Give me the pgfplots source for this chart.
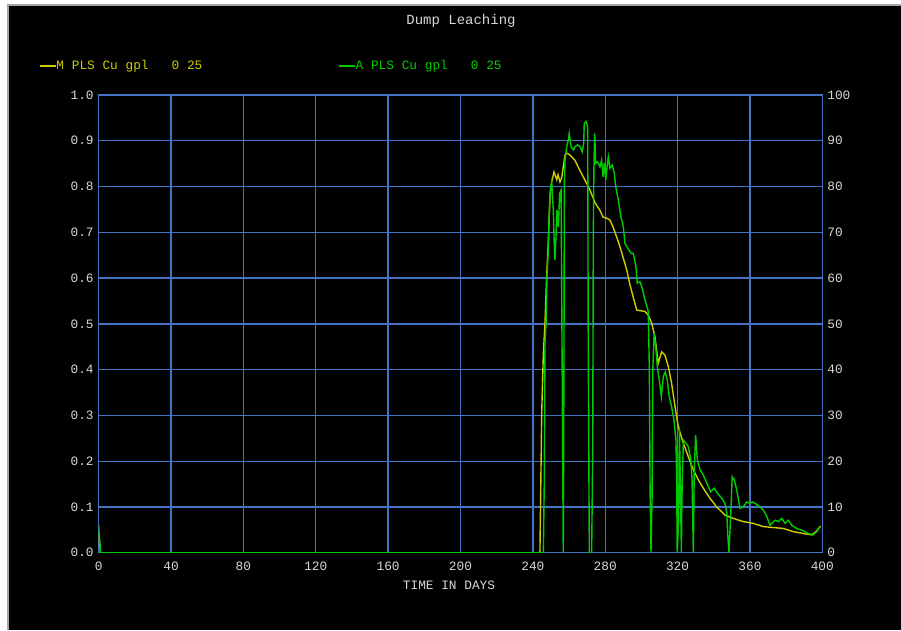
\documentclass[border=0pt]{standalone}
\usepackage{fontspec}
\setmainfont{Liberation Mono}
\usepackage{pgfplots}
\pgfplotsset{compat=1.18}
\definecolor{gridblue}{RGB}{68,114,196}
\definecolor{myyellow}{RGB}{205,205,0}
\definecolor{mygreen}{RGB}{0,205,0}
\definecolor{ticktext}{RGB}{215,215,215}

\pgfplotstableread{
day val
0 0.04
1 0
243.9 0
244.9 0.307
245.8 0.436
246.7 0.502
247.6 0.602
248.5 0.677
248.9 0.72
249.5 0.777
250.4 0.81
251.7 0.832
253.2 0.815
253.9 0.826
255 0.81
256 0.82
256.7 0.84
257.8 0.869
258.7 0.873
260.5 0.869
263.3 0.857
266 0.835
268.8 0.814
271.6 0.792
274.3 0.765
277.1 0.748
278.8 0.733
280.8 0.731
282.6 0.727
284.3 0.712
286.3 0.69
288.2 0.668
289.8 0.646
291.9 0.618
293.7 0.585
297.4 0.53
302 0.527
303.8 0.519
305.7 0.501
307.5 0.472
309.3 0.414
311.2 0.439
313 0.432
314.9 0.406
316.7 0.37
318.6 0.319
320.4 0.275
323.2 0.239
325.9 0.21
328.7 0.181
331.5 0.159
334.2 0.141
337.9 0.119
341.6 0.1
346.2 0.082
350.8 0.075
356.3 0.068
361.9 0.064
367.4 0.057
372.9 0.055
378.4 0.053
384 0.046
389.5 0.042
394.1 0.039
396.5 0.046
399.1 0.058
}\tabM

\pgfplotstableread{
day val
0 0.06
1 0
245.8 0
246.3 0.152
246.7 0.458
247.3 0.502
247.8 0.602
248.5 0.661
249.1 0.749
249.6 0.793
250.4 0.81
251.3 0.749
251.9 0.661
252.2 0.64
252.8 0.69
253.3 0.749
254.1 0.712
254.8 0.785
255.6 0.792
255.9 0.603
256.5 0.203
256.8 0
257.2 0.428
257.4 0.807
257.8 0.858
258.7 0.887
259.6 0.902
260.1 0.916
261.1 0.887
262.4 0.88
263.3 0.887
264.8 0.891
266.1 0.887
267.3 0.876
268.1 0.894
268.4 0.938
269.4 0.942
270.3 0.931
270.6 0.465
271.2 0
272.5 0
273.1 0.232
273.4 0.69
273.8 0.858
274.2 0.916
274.7 0.851
275.8 0.854
277.1 0.843
278 0.858
278.8 0.821
279.5 0.851
280.3 0.814
281 0.843
281.7 0.865
282.6 0.84
283.9 0.847
285 0.829
285.8 0.8
287.2 0.771
288.7 0.734
290 0.712
290.9 0.676
291.9 0.669
293.1 0.661
294.3 0.654
295.5 0.654
297 0.625
297.7 0.589
299.2 0.592
300.2 0.581
302 0.552
303.8 0.527
304.4 0.399
304.8 0.137
305.3 0
305.9 0.122
306.3 0.399
307 0.479
307.9 0.45
308.8 0.406
309.9 0.377
311 0.341
312.1 0.385
313.2 0.395
314.3 0.377
315.4 0.341
316.7 0.319
318 0.29
319.1 0.246
319.5 0.159
319.8 0
320.6 0.071
321 0.275
321.5 0.159
322.1 0
322.4 0.122
323.2 0.246
324.7 0.239
325.9 0.232
327.3 0.203
328 0.159
328.7 0
329.2 0.181
330 0.257
330.9 0.203
332.4 0.181
334.2 0.17
336.1 0.152
338.3 0.133
340.2 0.141
342 0.13
344.4 0.119
346.2 0.108
347.2 0.086
347.7 0.042
348.4 0
349.4 0.086
350.2 0.166
351.4 0.159
352.7 0.137
354.5 0.097
356.3 0.1
358.2 0.111
360 0.108
361.3 0.111
362.8 0.108
365.6 0.1
367.4 0.093
369.3 0.079
371.1 0.06
372 0.064
373.9 0.071
375.7 0.068
377.6 0.075
379.4 0.064
381.2 0.071
383.1 0.06
385.8 0.053
389.5 0.048
392.3 0.042
395 0.039
396.9 0.046
398.7 0.057
}\tabA

\begin{document}
\begin{tikzpicture}
\useasboundingbox (0,0) rectangle (901pt,630pt);
\fill[white] (0,0) rectangle (901pt,630pt);
\fill[black] (8pt,0) rectangle (901pt,625pt);
\draw[gray!70, line width=1.5pt] (8pt,0) -- (8pt,625pt) -- (901pt,625pt);
\node[ticktext, font=\fontsize{14}{16}\selectfont] at (461pt,609pt) {Dump Leaching};
\node[ticktext, font=\fontsize{12.8}{14}\selectfont] at (449pt,45pt) {TIME IN DAYS};

\begin{axis}[
  at={(98.7pt,77.3pt)}, anchor=south west, scale only axis,
  width=723.6pt, height=457.7pt,
  xmin=0, xmax=400, ymin=0, ymax=1,
  xtick={0,40,80,120,160,200,240,280,320,360,400},
  xticklabels={0,40,80,120,160,200,240,280,320,360,400},
  ytick={0,0.1,0.2,0.3,0.4,0.5,0.6,0.7,0.8,0.9,1.0},
  yticklabels={0.0,0.1,0.2,0.3,0.4,0.5,0.6,0.7,0.8,0.9,1.0},
  grid=major,
  major grid style={gridblue, line width=1.3pt},
  axis line style={gridblue, line width=1.3pt},
  major tick length=0pt,
  tick label style={ticktext, font=\fontsize{12.8}{14}\selectfont},
  yticklabel style={xshift=-1.5pt},
  xticklabel style={yshift=-6pt},
  legend columns=2,
  legend style={at={(-0.0867,1.0634)}, anchor=west, draw=none, fill=none,
    font=\fontsize{12.8}{14}\selectfont, nodes={inner sep=0pt},
    /tikz/every even column/.append style={column sep=136pt}},
  legend image code/.code={\draw[#1, line width=1.3pt] (0pt,0pt) -- (16pt,0pt);},
]
\addplot[myyellow, line width=1.4pt] table[x=day, y=val] {\tabM};
\addlegendentry{\textcolor{myyellow}{M PLS Cu gpl\ \ \ 0 25}}
\addplot[mygreen, line width=1.4pt] table[x=day, y=val] {\tabA};
\addlegendentry{\textcolor{mygreen}{A PLS Cu gpl\ \ \ 0 25}}
\end{axis}

\begin{axis}[
  at={(98.7pt,77.3pt)}, anchor=south west, scale only axis,
  width=723.6pt, height=457.7pt,
  xmin=0, xmax=400, ymin=0, ymax=100,
  hide x axis, axis y line*=right,
  ytick={0,10,20,30,40,50,60,70,80,90,100},
  yticklabels={0,10,20,30,40,50,60,70,80,90,100},
  axis line style={gridblue, line width=1.3pt},
  major tick length=0pt,
  tick label style={ticktext, font=\fontsize{12.8}{14}\selectfont},
  yticklabel style={xshift=1.5pt},
]
\addplot[draw=none] coordinates {(0,0) (400,100)};
\end{axis}
\end{tikzpicture}
\end{document}
